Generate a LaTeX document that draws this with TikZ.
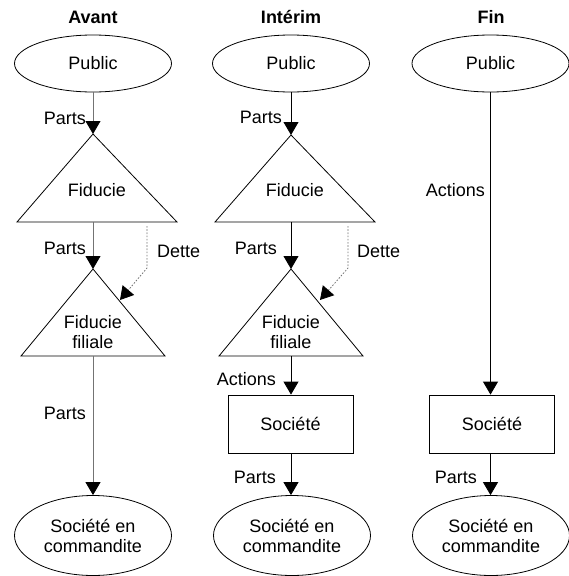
\documentclass[tikz,border=0pt]{standalone}
\usepackage{fontspec}
\setmainfont{Liberation Sans}
\usetikzlibrary{arrows.meta,shapes.geometric}
\tikzset{
  txt/.style={font=\fontsize{18}{20}\selectfont, inner sep=0pt, align=center},
  heading/.style={txt, font=\fontsize{18}{20}\selectfont\bfseries},
  lbl/.style={txt, anchor=east},
  oval/.style={txt, draw, ellipse, line width=0.8pt, minimum width=157pt, minimum height=57pt},
  lowoval/.style={oval, minimum height=80pt},
  firm/.style={txt, draw, rectangle, line width=0.8pt, minimum width=125pt, minimum height=58pt},
  trust/.style={draw, line width=0.8pt, line join=miter},
  flow/.style={line width=0.8pt, -{Triangle[length=13pt,width=15pt]}},
  flowgray/.style={flow, draw=black!55, -{Triangle[length=13pt,width=15pt,color=black]}},
  debt/.style={draw=black!55, line width=0.8pt, dash pattern=on 1.6pt off 1.6pt,
               -{Triangle[length=13pt,width=15pt,color=black]}}
}
\begin{document}
\begin{tikzpicture}[x=1pt,y=-1pt]
\useasboundingbox (0,0) rectangle (569,576);

% ---------- Avant ----------
\node[heading] (t1) at (93,17) {Avant};
\node[oval] (pub1) at (93,63.5) {Public};
\coordinate (fid1a) at (93,134);
\coordinate (fid1l) at (17,222);
\coordinate (fid1r) at (177,222);
\coordinate (fid1b) at (93,222);
\draw[trust] (fid1a) -- (fid1l) -- (fid1r) -- cycle;
\node[txt] (fid1t) at (97,190) {Fiducie};
\coordinate (fil1a) at (93,269);
\coordinate (fil1l) at (21,356);
\coordinate (fil1r) at (165,356);
\coordinate (fil1b) at (93,356);
\draw[trust] (fil1a) -- (fil1l) -- (fil1r) -- cycle;
\node[txt] (fil1t) at (93,332) {Fiducie\\filiale};
\node[lowoval] (sec1) at (93,535.5) {Société en\\commandite};

\draw[flowgray] (pub1.south) -- (fid1a);
\node[lbl] (p1a) at (86,118) {Parts};
\draw[flowgray] (fid1b) -- (fil1a);
\node[lbl] (p1b) at (86,248) {Parts};
\coordinate (d1s) at (147,226);
\coordinate (d1k) at (147,268);
\coordinate (d1e) at (120,300);
\draw[debt] (d1s) -- (d1k) -- (d1e);
\node[txt, anchor=west] (d1) at (157,251) {Dette};
\draw[flowgray] (fil1b) -- (sec1.north);
\node[lbl] (p1c) at (86,413) {Parts};

% ---------- Intérim ----------
\node[heading] (t2) at (291,17) {Intérim};
\node[oval] (pub2) at (291,63.5) {Public};
\coordinate (fid2a) at (291,135);
\coordinate (fid2l) at (215,222);
\coordinate (fid2r) at (375,222);
\coordinate (fid2b) at (291,222);
\draw[trust] (fid2a) -- (fid2l) -- (fid2r) -- cycle;
\node[txt] (fid2t) at (295,190) {Fiducie};
\coordinate (fil2a) at (291,269);
\coordinate (fil2l) at (219,356);
\coordinate (fil2r) at (363,356);
\coordinate (fil2b) at (291,356);
\draw[trust] (fil2a) -- (fil2l) -- (fil2r) -- cycle;
\node[txt] (fil2t) at (291,332) {Fiducie\\filiale};
\node[firm] (soc2) at (290.5,424) {Société};
\node[lowoval] (sec2) at (292,535.5) {Société en\\commandite};

\draw[flow] (pub2.south) -- (fid2a);
\node[lbl] (p2a) at (282,117) {Parts};
\draw[flow] (fid2b) -- (fil2a);
\node[lbl] (p2b) at (277,248) {Parts};
\coordinate (d2s) at (348,226);
\coordinate (d2k) at (348,268);
\coordinate (d2e) at (320,300);
\draw[debt] (d2s) -- (d2k) -- (d2e);
\node[txt, anchor=west] (d2) at (357,251) {Dette};
\draw[flow] (fil2b) -- (soc2.north -| fil2b);
\node[lbl] (a2) at (276,379) {Actions};
\draw[flow] (soc2.south -| fil2b) -- (sec2.north -| fil2b);
\node[lbl] (p2c) at (276,477) {Parts};

% ---------- Fin ----------
\node[heading] (t3) at (491,17) {Fin};
\node[oval] (pub3) at (490.5,63.5) {Public};
\node[firm] (soc3) at (492,424) {Société};
\node[lowoval] (sec3) at (491,535.5) {Société en\\commandite};

\draw[flow] (pub3.south) -- (pub3.south |- soc3.north);
\node[lbl] (a3) at (485,190) {Actions};
\draw[flow] (pub3.south |- soc3.south) -- (pub3.south |- sec3.north);
\node[lbl] (p3) at (477,477) {Parts};
\end{tikzpicture}
\end{document}
